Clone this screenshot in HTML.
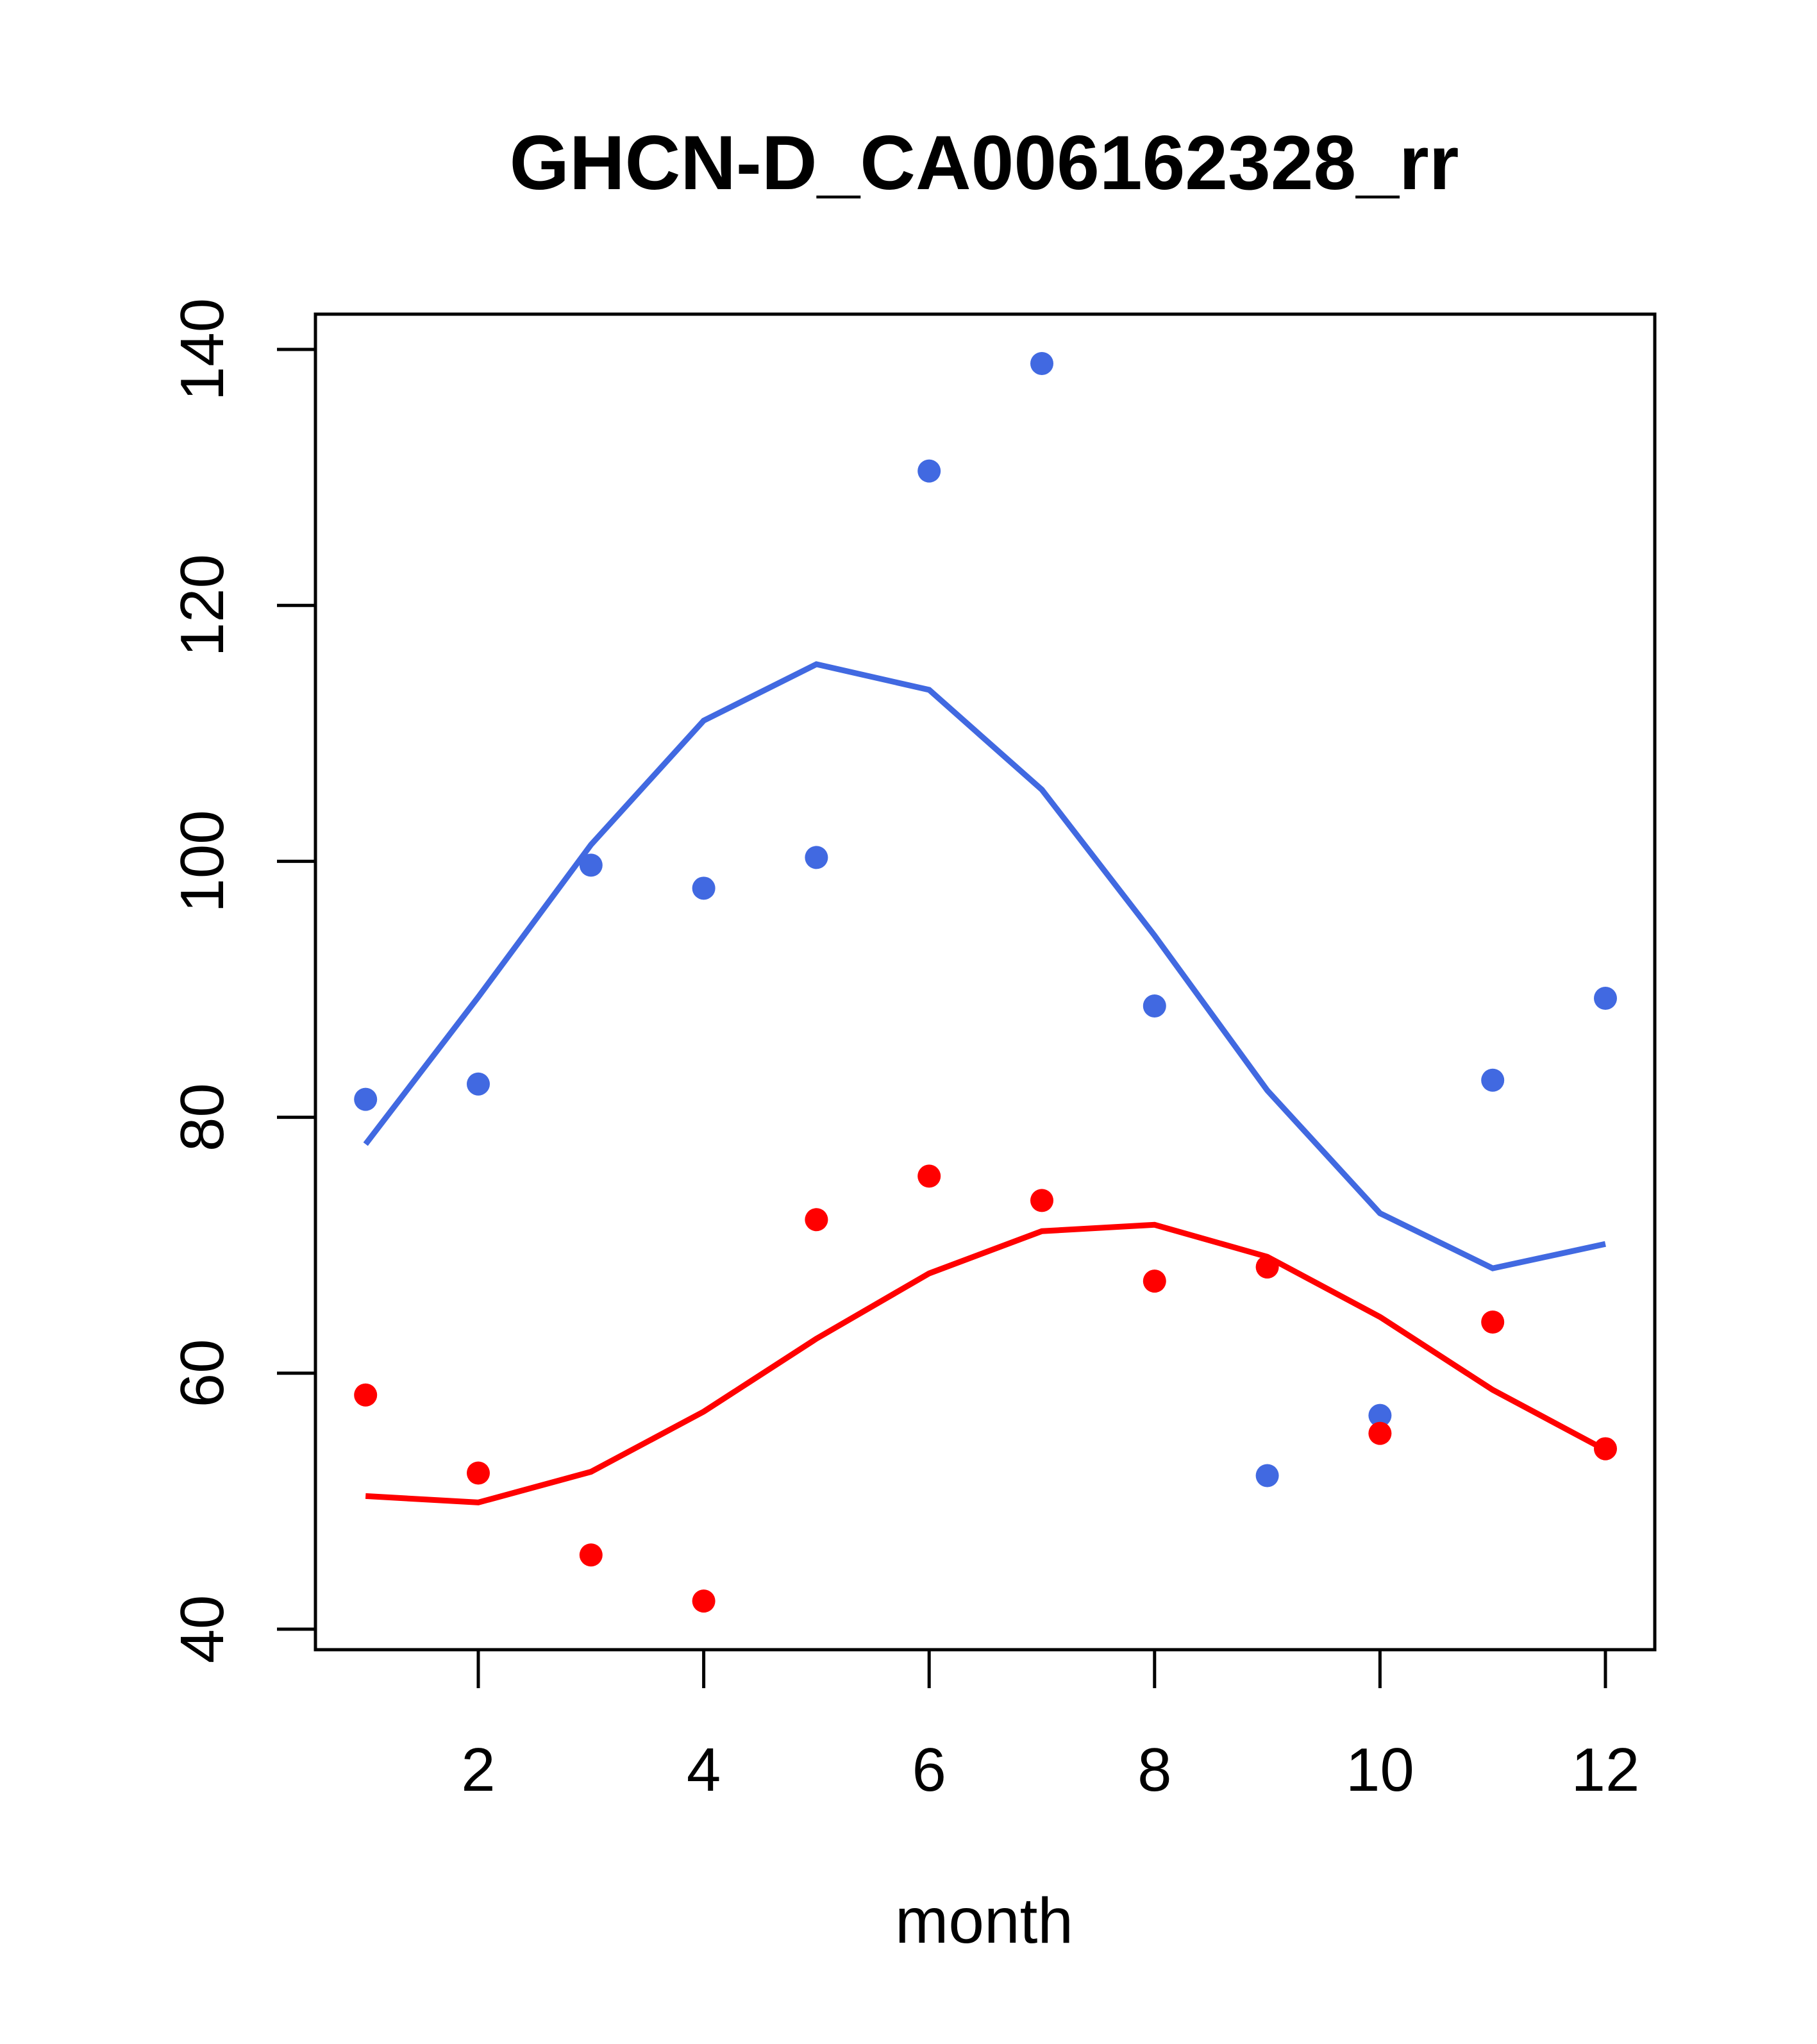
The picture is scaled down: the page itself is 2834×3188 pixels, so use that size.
<!DOCTYPE html>
<html><head><meta charset="utf-8"><style>
html,body{margin:0;padding:0;background:#fff}
svg{display:block}
text{font-family:"Liberation Sans",sans-serif;fill:#000}
</style></head><body>
<svg id="chart" width="2834" height="3188" viewBox="0 0 2834 3188" xmlns="http://www.w3.org/2000/svg">
<rect width="2834" height="3188" fill="#fff"/>
<text x="1535" y="295" font-size="120" font-weight="bold" text-anchor="middle">GHCN-D_CA006162328_rr</text>
<rect x="492" y="490" width="2089" height="2083" fill="none" stroke="#000" stroke-width="5"/>
<text x="1535" y="3030" font-size="100" text-anchor="middle">month</text>
<g id="g"></g>
</svg>
<script>
const months=[1,2,3,4,5,6,7,8,9,10,11,12];
const bluePoints=[81.4,82.6,99.7,97.9,100.3,130.5,138.9,88.7,52.0,56.7,82.9,89.3];
const blueLine=[77.9,89.4,101.3,111.0,115.4,113.4,105.6,94.2,82.1,72.5,68.2,70.1];
const redPoints=[58.3,52.2,45.8,42.2,72.0,75.4,73.5,67.2,68.3,55.3,64.0,54.1];
const redLine=[50.4,49.9,52.3,57.0,62.7,67.8,71.1,71.6,69.1,64.4,58.7,54.0];
const xTicks=[2,4,6,8,10,12];
const yTicks=[40,60,80,100,120,140];

const NS="http://www.w3.org/2000/svg";
const g=document.getElementById('g');
const X=m=>746+(m-2)*(2504-746)/10;
const Y=v=>2541-(v-40)*(2541-545)/100;
function mk(t,a){const e=document.createElementNS(NS,t);for(const k in a)e.setAttribute(k,a[k]);g.appendChild(e);return e;}
let e=mk('line',{x1:X(2),x2:X(12),y1:2573,y2:2573,stroke:'#000','stroke-width':5});


xTicks.forEach(t=>{
 let l=mk('line',{x1:X(t),x2:X(t),y1:2573,y2:2633,stroke:'#000','stroke-width':5});
 
 
 let tx=mk('text',{x:X(t),y:2793,'font-size':96,'text-anchor':'middle'});tx.textContent=t;
 
 
});
e=mk('line',{x1:492,x2:492,y1:Y(40),y2:Y(140),stroke:'#000','stroke-width':5});


yTicks.forEach(t=>{
 let l=mk('line',{x1:432,x2:492,y1:Y(t),y2:Y(t),stroke:'#000','stroke-width':5});
 
 
 let tx=mk('text',{x:0,y:0,'font-size':96,'text-anchor':'middle',transform:`translate(348,${Y(t)}) rotate(-90)`});tx.textContent=t;
 
 
});
function line(vals,col,name){
 let p=mk('polyline',{points:months.map((m,i)=>X(m)+','+Y(vals[i])).join(' '),fill:'none',stroke:col,'stroke-width':9});
 
 
}
function pts(vals,col,name){
 months.forEach((m,i)=>{
  let c=mk('circle',{cx:X(m),cy:Y(vals[i]),r:18,fill:col});
  
  
 });
}
line(blueLine,'#4169E1','blue-line');
line(redLine,'#FF0000','red-line');
pts(bluePoints,'#4169E1','blue-point');
pts(redPoints,'#FF0000','red-point');
</script>
</body></html>
